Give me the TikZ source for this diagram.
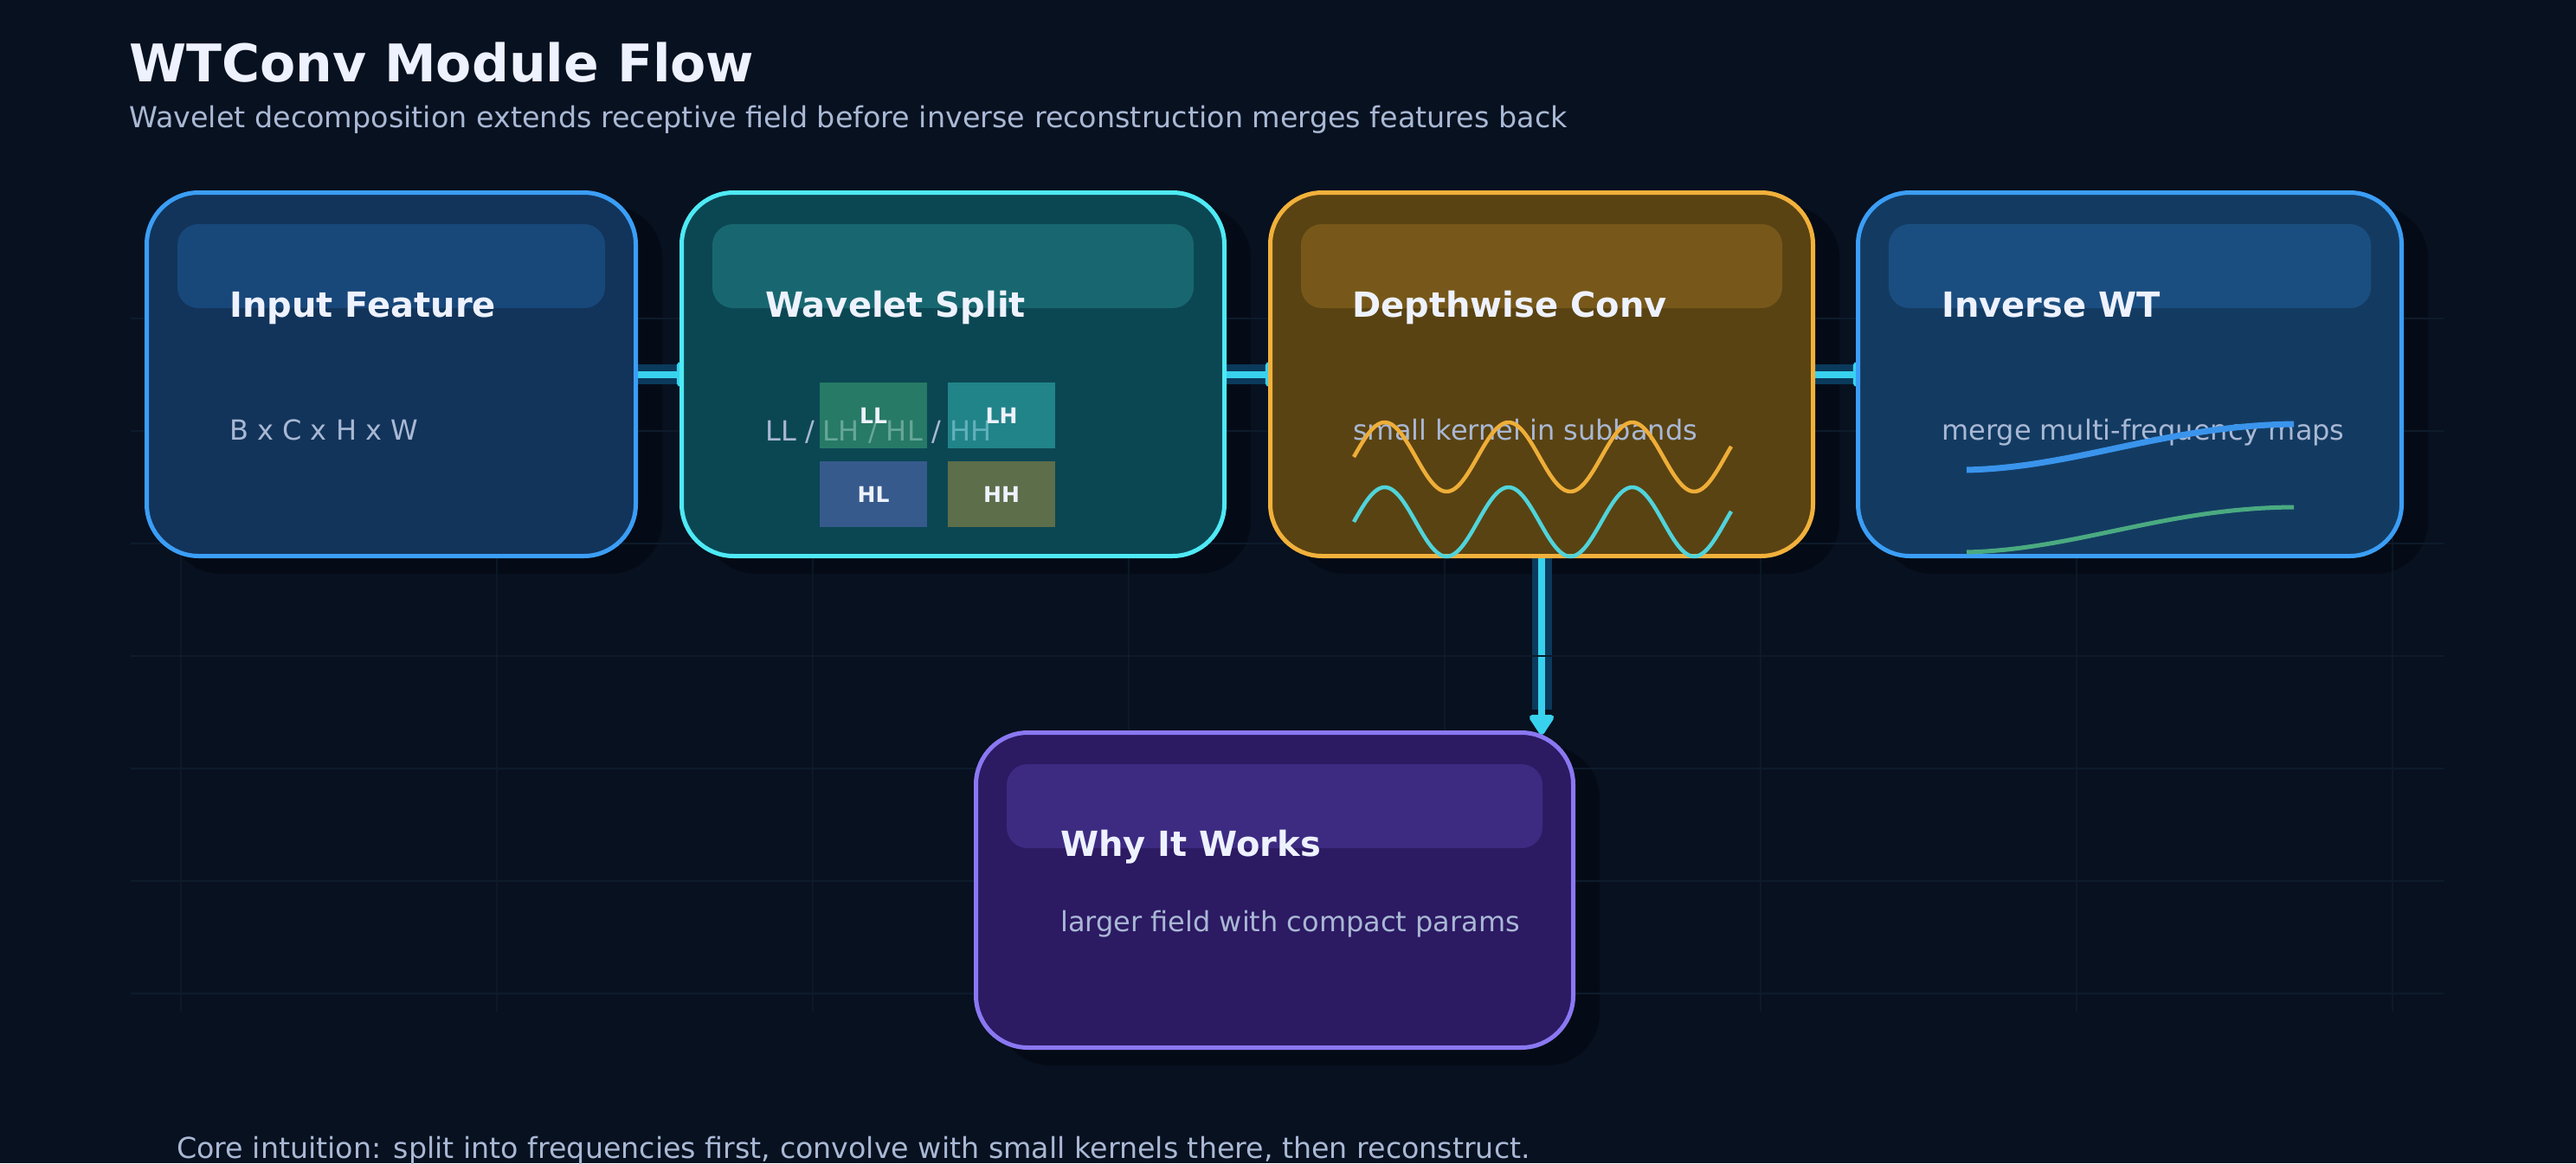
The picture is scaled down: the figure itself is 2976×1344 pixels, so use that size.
\documentclass[tikz,border=0pt]{standalone}
\usepackage{fontspec}
\setmainfont{DejaVu Sans}
\usetikzlibrary{arrows.meta}

\definecolor{bgcol}{HTML}{081120}
\definecolor{gridcol}{HTML}{0D1B2B}
\definecolor{shadowcol}{HTML}{050B16}
\definecolor{titlecol}{HTML}{EEF2FF}
\definecolor{subcol}{HTML}{A9B8D4}
\definecolor{flowcol}{HTML}{38D2EE}
\definecolor{glowcol}{HTML}{0A3A5C}
\definecolor{featfill}{HTML}{12345A}
\definecolor{featband}{HTML}{18477A}
\definecolor{featline}{HTML}{3B9EF6}
\definecolor{splitfill}{HTML}{0B4753}
\definecolor{splitband}{HTML}{186770}
\definecolor{splitline}{HTML}{4EEAF5}
\definecolor{convfill}{HTML}{5A4312}
\definecolor{convband}{HTML}{77581A}
\definecolor{convline}{HTML}{F2B13B}
\definecolor{iwtfill}{HTML}{133B62}
\definecolor{iwtband}{HTML}{1B4E80}
\definecolor{whyfill}{HTML}{2C1A63}
\definecolor{whyband}{HTML}{3D2B82}
\definecolor{whyline}{HTML}{8A78F2}
\definecolor{llcol}{HTML}{3A9C73}
\definecolor{lhcol}{HTML}{31ADAD}
\definecolor{hlcol}{HTML}{5367B2}
\definecolor{hhcol}{HTML}{948844}
\definecolor{waveamber}{HTML}{EEAE38}
\definecolor{wavecyan}{HTML}{50D4DA}
\definecolor{curveblue}{HTML}{3A94EC}
\definecolor{curvegreen}{HTML}{4AAA80}

\pgfdeclarelayer{back}
\pgfdeclarelayer{shadow}
\pgfdeclarelayer{edges}
\pgfdeclarelayer{grid}
\pgfsetlayers{back,shadow,edges,grid,main}

\tikzset{
	card/.style={draw, rounded corners=60pt, line width=5pt, inner sep=0pt},
	cardtitle/.style={anchor=base west, inner sep=0pt, text=titlecol, font=\fontsize{40}{48}\selectfont\bfseries},
	cardtext/.style={anchor=base west, inner sep=0pt, text=subcol, font=\fontsize{32}{38}\selectfont},
	subband/.style={minimum width=124pt, minimum height=76pt, inner sep=0pt, fill opacity=0.6, text opacity=1, text=titlecol, font=\fontsize{25}{30}\selectfont\bfseries},
	flow/.style={line width=8pt, draw=flowcol, -{Triangle[width=32pt,length=26pt,round]}},
	glow/.style={line width=23pt, draw=glowcol}
}

\begin{document}
\begin{tikzpicture}[x=1pt, y=-1pt]
	\begin{pgfonlayer}{back}
		\fill[bgcol] (0,0) rectangle (2976,1344);
	\end{pgfonlayer}
	\useasboundingbox (0,0) rectangle (2976,1344);

	\node[anchor=base west, inner sep=0pt, text=titlecol, font=\fontsize{60}{72}\selectfont\bfseries] (title) at (149,94) {WTConv Module Flow};
	\node[anchor=base west, inner sep=0pt, text=subcol, font=\fontsize{33.4}{40}\selectfont] (subtitle) at (149,147) {Wavelet decomposition extends receptive field before inverse reconstruction merges features back};
	\node[anchor=base west, inner sep=0pt, text=subcol, font=\fontsize{33.3}{40}\selectfont] (footer) at (204,1338) {Core intuition: split into frequencies first, convolve with small kernels there, then reconstruct.};

	\node[card, fill=featfill, draw=featline, minimum width=565pt, minimum height=420pt] (feat) at (452,432.5) {};
	\node[card, fill=splitfill, draw=splitline, minimum width=627pt, minimum height=420pt] (split) at (1101,432.5) {};
	\node[card, fill=convfill, draw=convline, minimum width=627pt, minimum height=420pt] (dwconv) at (1781,432.5) {};
	\node[card, fill=iwtfill, draw=featline, minimum width=628pt, minimum height=420pt] (iwt) at (2460.5,432.5) {};
	\node[card, fill=whyfill, draw=whyline, minimum width=690pt, minimum height=364pt] (why) at (1472.5,1028.5) {};

	\foreach \n/\c in {feat/featband, split/splitband, dwconv/convband, iwt/iwtband, why/whyband}
		\fill[\c, rounded corners=24pt] ([shift={(38,39)}]\n.north west) rectangle ([shift={(-38,136)}]\n.north east);

	\begin{pgfonlayer}{shadow}
		\foreach \n in {feat, split, dwconv, iwt, why}
			\fill[shadowcol, rounded corners=60pt] ([shift={(28,18)}]\n.south west) rectangle ([shift={(28,18)}]\n.north east);
	\end{pgfonlayer}

	\begin{pgfonlayer}{grid}
		\foreach \y in {368,498,...,1148}
			\draw[gridcol, line width=2.5pt] (151,\y) -- (2824,\y);
		\foreach \x in {209,574,...,2764}
			\draw[gridcol, line width=2pt, opacity=0.8] (\x,350) -- (\x,1169);
	\end{pgfonlayer}

	\begin{pgfonlayer}{edges}
		\foreach \a/\b in {feat/split, split/dwconv, dwconv/iwt} {
			\draw[glow] (\a.east) -- ([xshift=20pt]\b.west);
			\draw[flow] (\a.east) -- ([xshift=20pt]\b.west);
		}
		\draw[glow] (dwconv.south) -- ([yshift=24pt]dwconv.south |- why.north);
		\draw[flow] (dwconv.south) -- ([yshift=-5pt]dwconv.south |- why.north);
	\end{pgfonlayer}

	\node[cardtitle] (feattitle) at ([shift={(98,146)}]feat.north west) {Input Feature};
	\node[cardtext] (feattext) at ([shift={(98,288)}]feat.north west) {B x C x H x W};

	\node[cardtitle] (splittitle) at ([shift={(99,146)}]split.north west) {Wavelet Split};
	\node[cardtext] (splittext) at ([shift={(99,289)}]split.north west) {LL / LH / HL / HH};
	\node[subband, fill=llcol] (ll) at (1009,480) {LL};
	\node[subband, fill=lhcol] (lh) at (1157,480) {LH};
	\node[subband, fill=hlcol] (hl) at (1009,571) {HL};
	\node[subband, fill=hhcol] (hh) at (1157,571) {HH};

	\node[cardtitle] (convtitle) at ([shift={(97,146)}]dwconv.north west) {Depthwise Conv};
	\node[cardtext] (convtext) at ([shift={(98,288)}]dwconv.north west) {small kernel in subbands};
	\draw[waveamber, line width=4.5pt] plot[domain=1564:2000, samples=160, smooth] (\x,{528-40*sin((\x-1564)/143*360)});
	\draw[wavecyan, line width=4.5pt] plot[domain=1564:2000, samples=160, smooth] (\x,{603-40*sin((\x-1564)/143*360)});

	\node[cardtitle] (iwttitle) at ([shift={(99,146)}]iwt.north west) {Inverse WT};
	\node[cardtext] (iwttext) at ([shift={(99,288)}]iwt.north west) {merge multi-frequency maps};
	\draw[curveblue, line width=7pt] (2272,543) .. controls (2400,540) and (2500,492) .. (2650,490);
	\draw[curvegreen, line width=5pt] (2272,638) .. controls (2400,635) and (2500,587) .. (2650,586);

	\node[cardtitle] (whytitle) at ([shift={(100,145)}]why.north west) {Why It Works};
	\node[cardtext] (whytext) at ([shift={(100,232)}]why.north west) {larger field with compact params};
\end{tikzpicture}
\end{document}
